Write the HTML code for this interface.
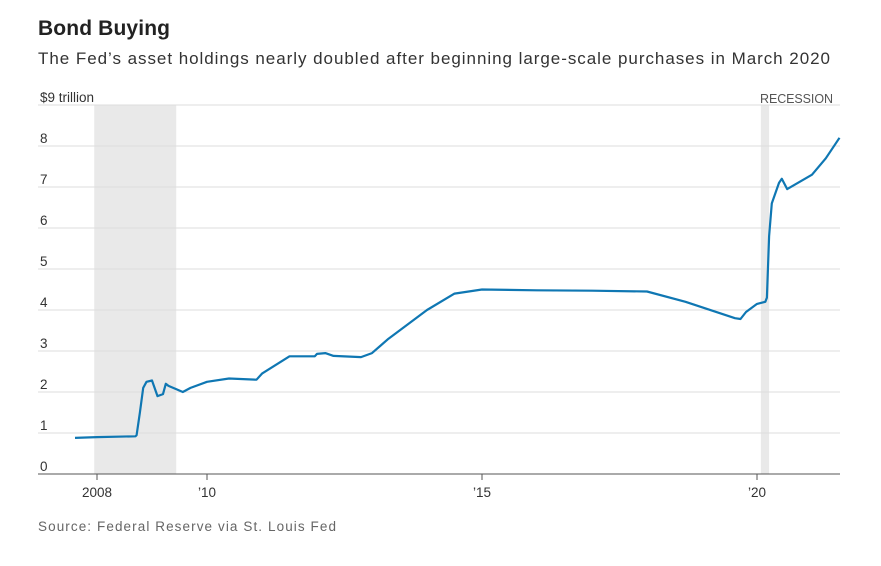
<!DOCTYPE html>
<html><head><meta charset="utf-8"><style>
body{margin:0;background:#fff;font-family:"Liberation Sans",sans-serif;}
</style></head><body>
<svg width="881" height="561" xmlns="http://www.w3.org/2000/svg">
<text x="38" y="35" font-size="21" font-weight="bold" fill="#222" textLength="132">Bond Buying</text>
<text x="38" y="64" font-size="17" fill="#333" textLength="792">The Fed’s asset holdings nearly doubled after beginning large-scale purchases in March 2020</text>
<g id="rec"></g><g id="grid"></g><g id="xt"></g>
<path id="line" fill="none" stroke="#0f77b3" stroke-width="2.2" stroke-linejoin="round"/>
<text x="760" y="103" font-size="12.5" fill="#555" textLength="73">RECESSION</text>
<text x="38" y="531" font-size="13.5" fill="#666" textLength="298">Source: Federal Reserve via St. Louis Fed</text>
</svg>
<script>
const years=[2007.6,2008.0,2008.7,2008.72,2008.78,2008.84,2008.9,2009.0,2009.1,2009.2,2009.25,2009.3,2009.47,2009.56,2009.7,2010.0,2010.4,2010.9,2011.0,2011.5,2011.96,2012.0,2012.15,2012.3,2012.8,2013.0,2013.3,2014.0,2014.5,2015.0,2016.0,2017.0,2018.0,2018.7,2019.6,2019.7,2019.8,2020.0,2020.15,2020.18,2020.22,2020.27,2020.4,2020.45,2020.55,2021.0,2021.25,2021.5];
const values=[0.88,0.9,0.92,0.95,1.5,2.1,2.25,2.28,1.9,1.95,2.2,2.15,2.05,2.0,2.1,2.25,2.33,2.3,2.45,2.87,2.87,2.93,2.95,2.88,2.85,2.95,3.3,4.0,4.4,4.5,4.48,4.47,4.45,4.2,3.8,3.78,3.95,4.15,4.2,4.3,5.8,6.6,7.1,7.2,6.95,7.3,7.7,8.2];
const yTicks=[0,1,2,3,4,5,6,7,8,9];
const xTickYears=[2008,2010,2015,2020];
const xTickLabels=["2008","’10","’15","’20"];
const recessions=[[2007.95,2009.44],[2020.07,2020.22]];
const ns="http://www.w3.org/2000/svg";
const X=y=>97+55*(y-2008), Y=v=>474-41*v;
function mk(t,a,p){const e=document.createElementNS(ns,t);for(const k in a)e.setAttribute(k,a[k]);p.appendChild(e);return e;}
const rec=document.getElementById('rec');
recessions.forEach(r=>{const e=mk('rect',{x:X(r[0]),y:Y(9),width:X(r[1])-X(r[0]),height:Y(0)-Y(9),fill:'#e9e9e9'},rec);

});
const g=document.getElementById('grid');
yTicks.forEach(v=>{const l=mk('line',{x1:38,x2:840,y1:Y(v),y2:Y(v),stroke:v==0?'#555':'#ddd','stroke-width':1},g);


const t=mk('text',{x:40,y:Y(v)-3,'font-size':13.5,fill:'#333'},g);t.textContent=v==9?'$9 trillion':v;

});
const xt=document.getElementById('xt');
xTickYears.forEach((y,i)=>{const l=mk('line',{x1:X(y),x2:X(y),y1:Y(0),y2:Y(0)+6,stroke:'#555'},xt);


const t=mk('text',{x:X(y),y:Y(0)+23,'font-size':13.5,fill:'#333','text-anchor':'middle'},xt);t.textContent=xTickLabels[i];

});
document.getElementById('line').setAttribute('d',years.map((y,i)=>(i?'L':'M')+X(y).toFixed(1)+','+Y(values[i]).toFixed(1)).join(''));
</script>
</body></html>
